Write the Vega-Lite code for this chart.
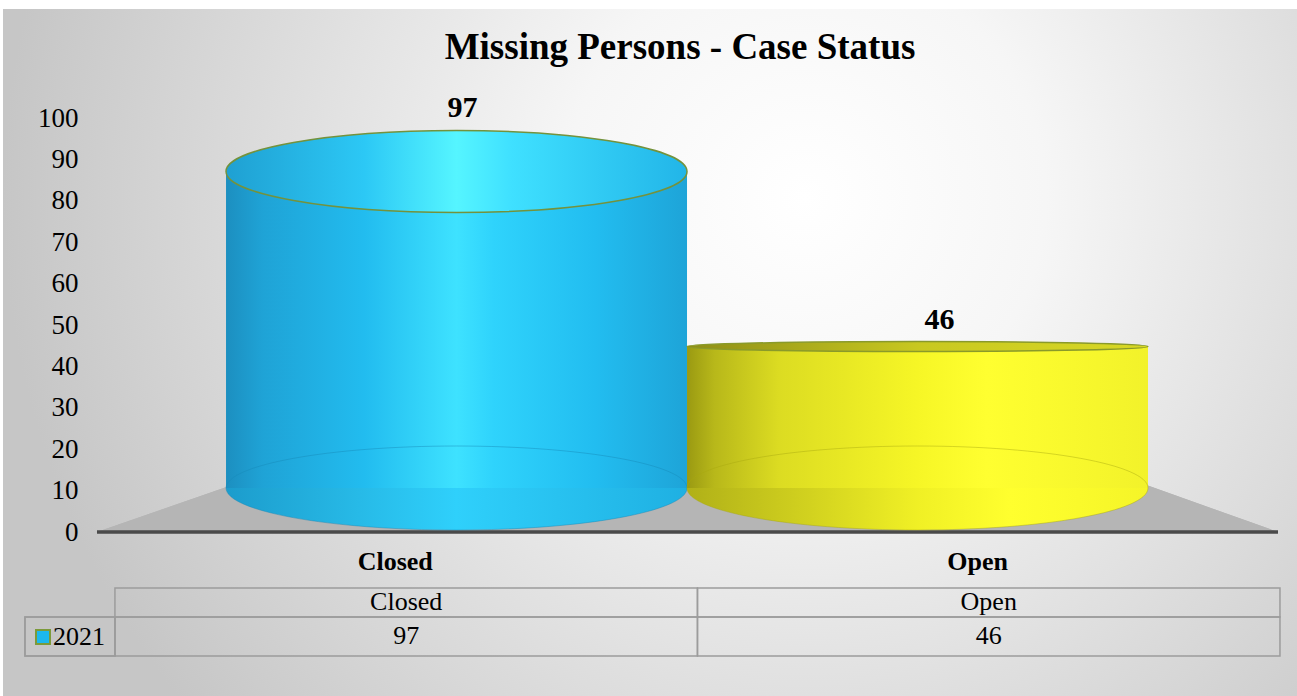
{
  "$schema": "https://vega.github.io/schema/vega-lite/v6.json",
  "width": 1297,
  "height": 696,
  "autosize": {"type": "fit", "contains": "padding"},
  "padding": {"left": 3, "top": 9, "right": 0, "bottom": 0},
  "background": "#ffffff",
  "config": {
    "font": "Liberation Serif",
    "view": {"fill": null, "stroke": "#bcbcbc", "strokeWidth": 1}
  },
  "title": {
    "text": "Missing Persons - Case Status",
    "font": "Liberation Serif",
    "fontSize": 37,
    "fontWeight": "bold",
    "color": "#000000",
    "anchor": "middle",
    "baseline": "alphabetic",
    "offset": -87,
    "dx": 30,
    "zindex": 1
  },
  "data": {"values": [
    {"status": "Closed", "count": 97},
    {"status": "Open", "count": 46}
  ]},
  "layer": [
    {
      "layer": [
        {
          "mark": {"type": "point", "shape": "M-1,-0.5309L1,-0.5309L1,0.5309L-1,0.5309Z", "size": 1674436, "filled": true, "opacity": 1, "strokeWidth": 0,
            "fill": {"gradient": "radial", "x1": 0.62, "y1": 0.38, "r1": 0, "x2": 0.62, "y2": 0.38, "r2": 0.62,
              "stops": [{"offset": 0, "color": "#ffffff"}, {"offset": 0.3, "color": "#f6f6f6"}, {"offset": 1, "color": "#c6c6c6"}]}},
          "encoding": {}
        },
        {
          "mark": {"type": "point", "shape": "M-0.9365,0L1.0635,0L0.6418,-0.1507L-0.503,-0.1507Z", "size": 1394761, "filled": true, "fill": "#b5b5b5", "opacity": 1, "strokeWidth": 0},
          "encoding": {
            "y": {"datum": 0, "type": "quantitative",
              "scale": {"domain": [-39.61, 126.33], "nice": false, "zero": false},
              "axis": {"orient": "left", "offset": -94, "values": [0, 10, 20, 30, 40, 50, 60, 70, 80, 90, 100], "ticks": false, "tickSize": 0, "domain": false, "grid": false, "labelFont": "Liberation Serif", "labelFontSize": 27, "labelColor": "#000000", "labelPadding": 19, "title": null, "zindex": 1}}
          }
        },
        {
          "mark": {"type": "point", "shape": "M-0.9365,0L1.0635,0", "size": 1394761, "filled": false, "stroke": "#4a4a4a", "strokeWidth": 3, "opacity": 1},
          "encoding": {"y": {"datum": 0, "type": "quantitative"}}
        },
        {
          "transform": [{"filter": "datum.status === 'Closed'"}],
          "mark": {"type": "point", "shape": "M-1,-0.1909C-1,-0.2915,-0.5523,-0.3731,0,-0.3731C0.5523,-0.3731,1,-0.2915,1,-0.1909C1,-0.0903,0.5523,-0.0087,0,-0.0087C-0.5523,-0.0087,-1,-0.0903,-1,-0.1909Z", "size": 212521, "filled": true, "opacity": 1, "strokeWidth": 0,
            "fill": {"gradient": "linear", "x1": 0, "y1": 0, "x2": 1, "y2": 0, "stops": [{"offset": 0, "color": "#1c9ccc"}, {"offset": 0.5, "color": "#2fd0fb"}, {"offset": 1, "color": "#1fb0e2"}]}},
          "encoding": {
            "x": {"field": "status", "type": "nominal", "scale": {"domain": ["Closed", "Open"], "paddingInner": 0, "paddingOuter": 0.4035, "align": 0.5995}, "axis": null},
            "y": {"datum": 0, "type": "quantitative"}
          }
        },
        {
          "transform": [{"filter": "datum.status === 'Closed'"}],
          "mark": {"type": "bar", "yOffset": 41, "y2Offset": -44, "opacity": 1,
            "fill": {"gradient": "linear", "x1": 0, "y1": 0, "x2": 1, "y2": 0, "stops": [{"offset": 0, "color": "#1c8fc0"}, {"offset": 0.08, "color": "#1fa3d6"}, {"offset": 0.3, "color": "#22bcef"}, {"offset": 0.5, "color": "#3ee2ff"}, {"offset": 0.58, "color": "#2fd3fc"}, {"offset": 0.8, "color": "#22bdf0"}, {"offset": 1, "color": "#1ea4d8"}]}},
          "encoding": {
            "x": {"field": "status", "type": "nominal"},
            "y": {"field": "count", "type": "quantitative"},
            "y2": {"datum": 0}
          }
        },
        {
          "transform": [{"filter": "datum.status === 'Closed'"}],
          "mark": {"type": "point", "shape": "M-1,-0.1909C-1,-0.2915,-0.5523,-0.3731,0,-0.3731C0.5523,-0.3731,1,-0.2915,1,-0.1909C1,-0.0903,0.5523,-0.0087,0,-0.0087C-0.5523,-0.0087,-1,-0.0903,-1,-0.1909Z", "size": 212521, "filled": false, "opacity": 1, "stroke": "#1689b8", "strokeOpacity": 0.45, "strokeWidth": 1},
          "encoding": {
            "x": {"field": "status", "type": "nominal"},
            "y": {"datum": 0, "type": "quantitative"}
          }
        },
        {
          "transform": [{"filter": "datum.status === 'Closed'"}],
          "mark": {"type": "point", "shape": "M-1,0.1779C-1,0.0797,-0.5523,0,0,0C0.5523,0,1,0.0797,1,0.1779C1,0.2761,0.5523,0.3558,0,0.3558C-0.5523,0.3558,-1,0.2761,-1,0.1779Z", "size": 212521, "filled": true, "opacity": 1, "stroke": "#74923c", "strokeWidth": 1.5,
            "fill": {"gradient": "linear", "x1": 0, "y1": 0, "x2": 1, "y2": 0, "stops": [{"offset": 0, "color": "#1fa0d2"}, {"offset": 0.3, "color": "#2cc8f5"}, {"offset": 0.5, "color": "#55f5ff"}, {"offset": 0.62, "color": "#3fe0ff"}, {"offset": 1, "color": "#22b5e8"}]}},
          "encoding": {
            "x": {"field": "status", "type": "nominal"},
            "y": {"field": "count", "type": "quantitative"}
          }
        },
        {
          "transform": [{"filter": "datum.status === 'Open'"}],
          "mark": {"type": "point", "shape": "M-1,-0.1909C-1,-0.2915,-0.5523,-0.3731,0,-0.3731C0.5523,-0.3731,1,-0.2915,1,-0.1909C1,-0.0903,0.5523,-0.0087,0,-0.0087C-0.5523,-0.0087,-1,-0.0903,-1,-0.1909Z", "size": 212521, "filled": true, "opacity": 1, "strokeWidth": 0,
            "fill": {"gradient": "linear", "x1": 0, "y1": 0, "x2": 1, "y2": 0, "stops": [{"offset": 0, "color": "#b0b018"}, {"offset": 0.5, "color": "#f0f025"}, {"offset": 0.7, "color": "#ffff2e"}, {"offset": 1, "color": "#f5f528"}]}},
          "encoding": {
            "x": {"field": "status", "type": "nominal"},
            "y": {"datum": 0, "type": "quantitative"}
          }
        },
        {
          "transform": [{"filter": "datum.status === 'Open'"}],
          "mark": {"type": "bar", "yOffset": 5, "y2Offset": -44, "opacity": 1,
            "fill": {"gradient": "linear", "x1": 0, "y1": 0, "x2": 1, "y2": 0, "stops": [{"offset": 0, "color": "#9a9a12"}, {"offset": 0.06, "color": "#b8b81a"}, {"offset": 0.2, "color": "#dcdc22"}, {"offset": 0.5, "color": "#f6f626"}, {"offset": 0.65, "color": "#ffff30"}, {"offset": 1, "color": "#f2f22a"}]}},
          "encoding": {
            "x": {"field": "status", "type": "nominal"},
            "y": {"field": "count", "type": "quantitative"},
            "y2": {"datum": 0}
          }
        },
        {
          "transform": [{"filter": "datum.status === 'Open'"}],
          "mark": {"type": "point", "shape": "M-1,-0.1909C-1,-0.2915,-0.5523,-0.3731,0,-0.3731C0.5523,-0.3731,1,-0.2915,1,-0.1909C1,-0.0903,0.5523,-0.0087,0,-0.0087C-0.5523,-0.0087,-1,-0.0903,-1,-0.1909Z", "size": 212521, "filled": false, "opacity": 1, "stroke": "#a8a810", "strokeOpacity": 0.45, "strokeWidth": 1},
          "encoding": {
            "x": {"field": "status", "type": "nominal"},
            "y": {"datum": 0, "type": "quantitative"}
          }
        },
        {
          "transform": [{"filter": "datum.status === 'Open'"}],
          "mark": {"type": "point", "shape": "M-1,0.0217C-1,0.0097,-0.5523,0,0,0C0.5523,0,1,0.0097,1,0.0217C1,0.0337,0.5523,0.0434,0,0.0434C-0.5523,0.0434,-1,0.0337,-1,0.0217Z", "size": 212521, "filled": true, "opacity": 1, "stroke": "#8a9a2a", "strokeWidth": 1.5,
            "fill": {"gradient": "linear", "x1": 0, "y1": 0, "x2": 1, "y2": 0, "stops": [{"offset": 0, "color": "#8e8e16"}, {"offset": 0.5, "color": "#c8c820"}, {"offset": 1, "color": "#d8d824"}]}},
          "encoding": {
            "x": {"field": "status", "type": "nominal"},
            "y": {"field": "count", "type": "quantitative"}
          }
        },
        {
          "transform": [{"filter": "datum.status === 'Closed'"}],
          "mark": {"type": "text", "font": "Liberation Serif", "fontSize": 30, "fontWeight": "bold", "color": "#000000", "baseline": "alphabetic", "align": "center", "dy": -13, "dx": 6},
          "encoding": {
            "x": {"field": "status", "type": "nominal"},
            "y": {"field": "count", "type": "quantitative"},
            "text": {"field": "count", "type": "quantitative"}
          }
        },
        {
          "transform": [{"filter": "datum.status === 'Open'"}],
          "mark": {"type": "text", "font": "Liberation Serif", "fontSize": 30, "fontWeight": "bold", "color": "#000000", "baseline": "alphabetic", "align": "center", "dy": -13, "dx": 22},
          "encoding": {
            "x": {"field": "status", "type": "nominal"},
            "y": {"field": "count", "type": "quantitative"},
            "text": {"field": "count", "type": "quantitative"}
          }
        }
      ]
    },
    {
      "layer": [
        {
          "mark": {"type": "rect", "fill": "transparent", "stroke": "#9c9c9c", "strokeWidth": 1.5},
          "encoding": {
            "x": {"field": "status", "type": "nominal",
              "scale": {"domain": ["Closed", "Open"], "paddingInner": 0, "paddingOuter": 0.1107, "align": 0.868},
              "axis": {"orient": "top", "offset": -579, "labelFont": "Liberation Serif", "labelFontSize": 26, "labelFontWeight": "bold", "labelColor": "#000000", "labelPadding": 14, "labelOffset": -11, "labelAngle": 0, "ticks": false, "tickSize": 0, "domain": false, "grid": false, "title": null, "zindex": 1}},
            "y": {"datum": 0, "type": "quantitative",
              "scale": {"domain": [-8.5147, 1.5882], "reverse": true, "nice": false, "zero": false},
              "axis": null},
            "y2": {"datum": 0.4265}
          }
        },
        {
          "mark": {"type": "rect", "fill": "transparent", "stroke": "#9c9c9c", "strokeWidth": 1.5},
          "encoding": {
            "x": {"field": "status", "type": "nominal"},
            "y": {"datum": 0.4265, "type": "quantitative"},
            "y2": {"datum": 1}
          }
        },
        {
          "mark": {"type": "point", "shape": "M-1,-0.0498L-0.7639,-0.0498L-0.7639,0.0525L-1,0.0525Z", "size": 581406, "filled": false, "stroke": "#9c9c9c", "strokeWidth": 1.5, "opacity": 1},
          "encoding": {
            "x": {"datum": "Closed", "type": "nominal"},
            "y": {"datum": 0.706, "type": "quantitative"}
          }
        },
        {
          "mark": {"type": "text", "font": "Liberation Serif", "fontSize": 26, "color": "#000000", "baseline": "middle", "align": "center"},
          "encoding": {
            "x": {"field": "status", "type": "nominal"},
            "y": {"datum": 0.206, "type": "quantitative"},
            "text": {"field": "status", "type": "nominal"}
          }
        },
        {
          "mark": {"type": "text", "font": "Liberation Serif", "fontSize": 26, "color": "#000000", "baseline": "middle", "align": "center"},
          "encoding": {
            "x": {"field": "status", "type": "nominal"},
            "y": {"datum": 0.706, "type": "quantitative"},
            "text": {"field": "count", "type": "quantitative"}
          }
        },
        {
          "mark": {"type": "point", "shape": "square", "filled": true, "opacity": 0, "stroke": "#7c9a3a", "strokeWidth": 2},
          "encoding": {
            "color": {"datum": "2021", "type": "nominal",
              "scale": {"range": ["#1cb8ee"]},
              "legend": {"orient": "none", "legendX": 27, "legendY": 615, "title": null, "padding": 0, "symbolType": "square", "symbolSize": 196, "symbolStrokeColor": "#7c9a3a", "symbolStrokeWidth": 2, "symbolOpacity": 1, "labelFont": "Liberation Serif", "labelFontSize": 26, "labelColor": "#000000", "labelOffset": -3, "zindex": 1}}
          }
        }
      ]
    }
  ],
  "resolve": {"scale": {"x": "independent", "y": "independent"}}
}
